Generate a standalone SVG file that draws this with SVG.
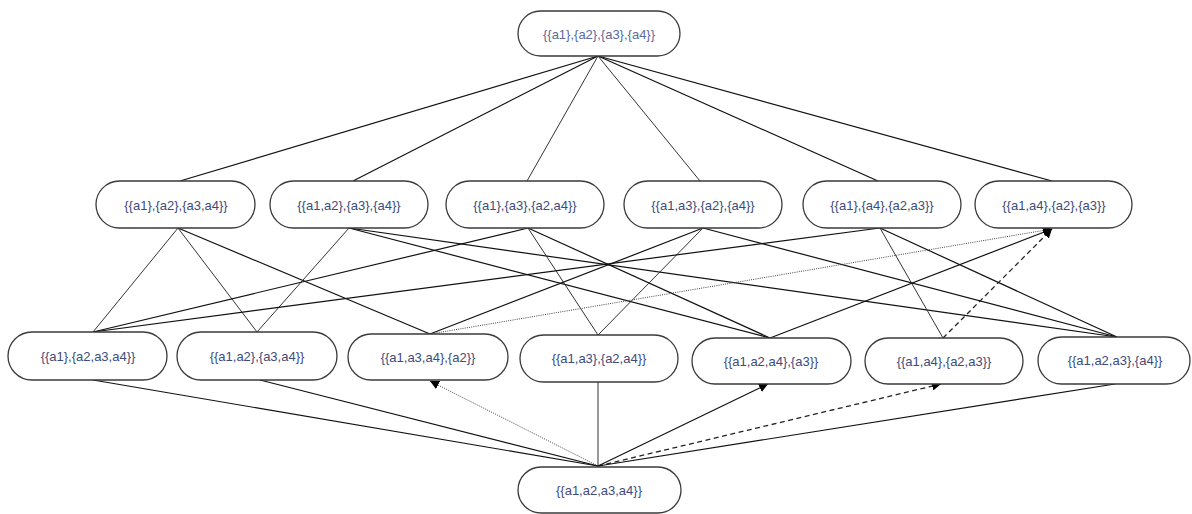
<svg xmlns="http://www.w3.org/2000/svg" width="1192" height="514" viewBox="0 0 1192 514">
<style>
.n rect{fill:#fff;stroke:#3a3a3a;stroke-width:1.3}
.n text{font-family:"Liberation Sans",Arial,sans-serif;font-size:13px;fill:#3d4b7a;text-anchor:middle;dominant-baseline:central}
.e line{stroke:#111;stroke-width:1.2;fill:none}
.e .thin{stroke:#333;stroke-width:1}
.e .dot{stroke:#444;stroke-width:1;stroke-dasharray:1 1.2}
.e .dash{stroke:#222;stroke-width:1.3;stroke-dasharray:5 3.5}
</style>
<defs>
<marker id="ah" viewBox="0 0 10 10" refX="10" refY="5" markerWidth="9" markerHeight="9" markerUnits="userSpaceOnUse" orient="auto">
<path d="M0,0 L10,5 L0,10 z" fill="#000"/>
</marker>
</defs>
<g id="connectors" class="e">
<!-- top to row 2 -->
<line x1="598" y1="56" x2="180" y2="181"/>
<line x1="598" y1="56" x2="353" y2="181"/>
<line class="thin" x1="598" y1="56" x2="527" y2="181"/>
<line class="thin" x1="598" y1="56" x2="700" y2="181"/>
<line x1="598" y1="56" x2="878" y2="181"/>
<line x1="598" y1="56" x2="1052" y2="181"/>
<!-- row 2 to row 3 -->
<line class="thin" x1="178" y1="228" x2="93" y2="332"/>
<line class="thin" x1="178" y1="228" x2="257" y2="332"/>
<line x1="178" y1="228" x2="430" y2="334"/>
<line class="thin" x1="349" y1="228" x2="257" y2="332"/>
<line x1="349" y1="228" x2="770" y2="338"/>
<line x1="349" y1="228" x2="1117" y2="337"/>
<line x1="528" y1="228" x2="93" y2="332"/>
<line class="thin" x1="528" y1="228" x2="598" y2="335"/>
<line x1="528" y1="228" x2="770" y2="338"/>
<line x1="703" y1="228" x2="430" y2="334"/>
<line class="thin" x1="703" y1="228" x2="598" y2="335"/>
<line x1="703" y1="228" x2="1117" y2="337"/>
<line x1="880" y1="228" x2="93" y2="332"/>
<line class="thin" x1="880" y1="228" x2="943" y2="338"/>
<line x1="880" y1="228" x2="1117" y2="337"/>
<line class="dot" x1="430" y1="334" x2="1052" y2="229" marker-end="url(#ah)"/>
<line x1="770" y1="338" x2="1052" y2="229" marker-end="url(#ah)"/>
<line class="dash" x1="943" y1="338" x2="1052" y2="229" marker-end="url(#ah)"/>
<!-- bottom to row 3 -->
<line x1="598" y1="466" x2="93" y2="380"/>
<line x1="598" y1="466" x2="260" y2="380"/>
<line class="dot" x1="598" y1="466" x2="430" y2="381" marker-end="url(#ah)"/>
<line class="thin" x1="598" y1="466" x2="598" y2="382"/>
<line x1="598" y1="466" x2="768" y2="384" marker-end="url(#ah)"/>
<line class="dash" x1="598" y1="466" x2="941" y2="384" marker-end="url(#ah)"/>
<line x1="598" y1="466" x2="1115" y2="384"/>
</g>
<g id="n-top" class="n"><rect x="518" y="11" width="162" height="45" rx="22.5"/><text x="599" y="34" style="fill:#5a6a9a">{{a1},{a2},{a3},{a4}}</text></g>
<g id="n-r2-1" class="n"><rect x="96" y="181" width="159" height="47" rx="23.5"/><text x="176" y="205">{{a1},{a2},{a3,a4}}</text></g>
<g id="n-r2-2" class="n"><rect x="270" y="181" width="158" height="47" rx="23.5"/><text x="349" y="205">{{a1,a2},{a3},{a4}}</text></g>
<g id="n-r2-3" class="n"><rect x="446" y="181" width="158" height="47" rx="23.5"/><text x="525" y="205">{{a1},{a3},{a2,a4}}</text></g>
<g id="n-r2-4" class="n"><rect x="624" y="181" width="158" height="47" rx="23.5"/><text x="703" y="205">{{a1,a3},{a2},{a4}}</text></g>
<g id="n-r2-5" class="n"><rect x="803" y="181" width="158" height="47" rx="23.5"/><text x="882" y="205">{{a1},{a4},{a2,a3}}</text></g>
<g id="n-r2-6" class="n"><rect x="975" y="181" width="157" height="47" rx="23.5"/><text x="1054" y="205">{{a1,a4},{a2},{a3}}</text></g>
<g id="n-r3-1" class="n"><rect x="8" y="332" width="159" height="48" rx="24"/><text x="88" y="356">{{a1},{a2,a3,a4}}</text></g>
<g id="n-r3-2" class="n"><rect x="177" y="332" width="160" height="48" rx="24"/><text x="257" y="356">{{a1,a2},{a3,a4}}</text></g>
<g id="n-r3-3" class="n"><rect x="348" y="334" width="160" height="46" rx="23"/><text x="428" y="357">{{a1,a3,a4},{a2}}</text></g>
<g id="n-r3-4" class="n"><rect x="520" y="335" width="158" height="47" rx="23.5"/><text x="599" y="358">{{a1,a3},{a2,a4}}</text></g>
<g id="n-r3-5" class="n"><rect x="692" y="338" width="159" height="46" rx="23"/><text x="771" y="361">{{a1,a2,a4},{a3}}</text></g>
<g id="n-r3-6" class="n"><rect x="865" y="338" width="158" height="46" rx="23"/><text x="944" y="361">{{a1,a4},{a2,a3}}</text></g>
<g id="n-r3-7" class="n"><rect x="1038" y="337" width="152" height="47" rx="23.5"/><text x="1115" y="360">{{a1,a2,a3},{a4}}</text></g>
<g id="n-bottom" class="n"><rect x="518" y="467" width="163" height="46" rx="23"/><text x="599" y="490">{{a1,a2,a3,a4}}</text></g>
</svg>
